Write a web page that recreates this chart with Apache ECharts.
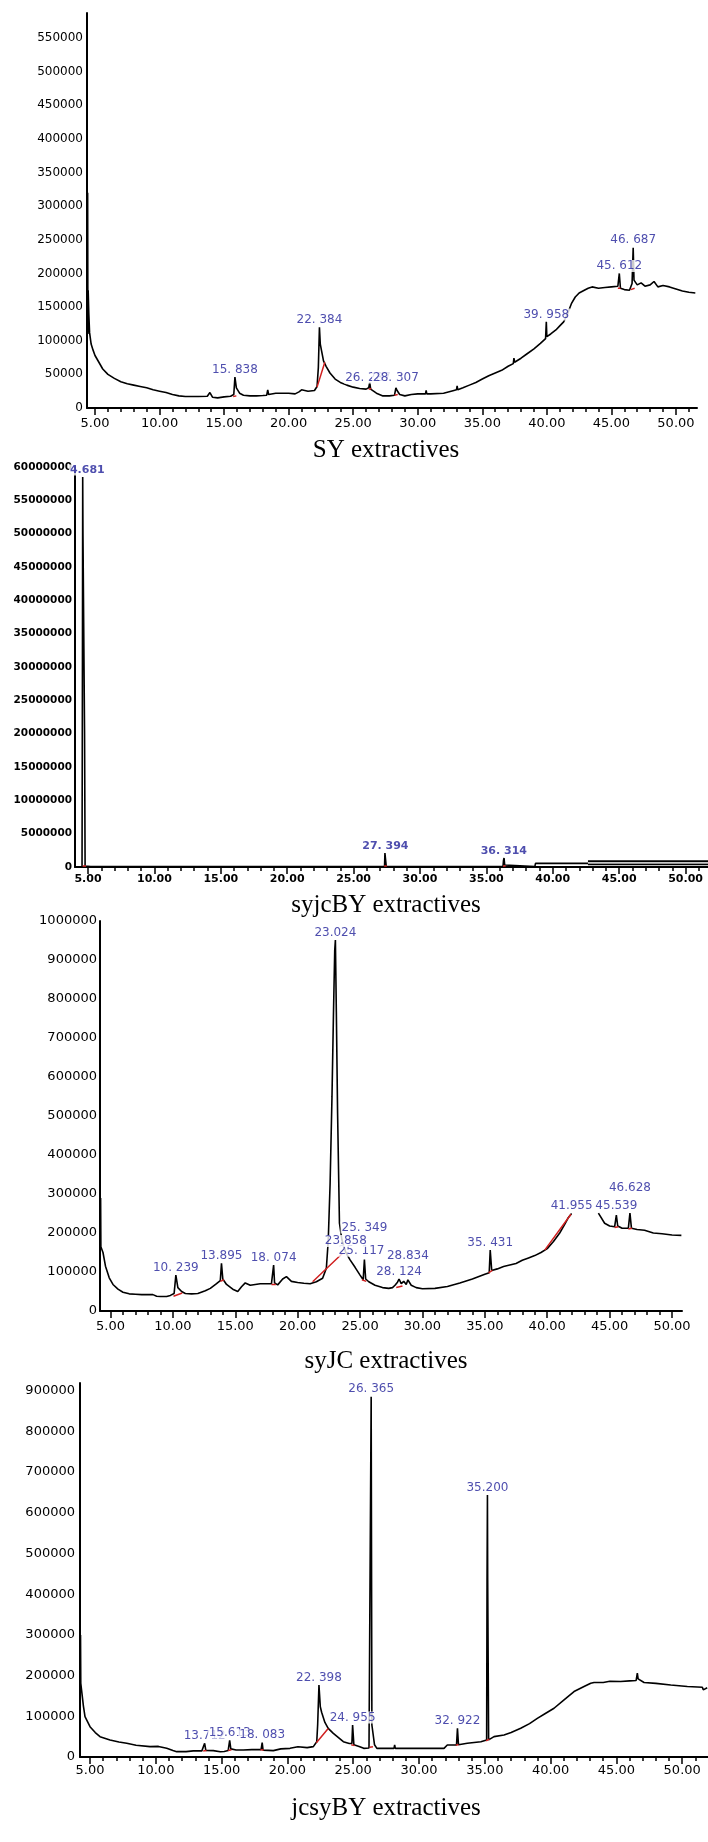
<!DOCTYPE html>
<html>
<head>
<meta charset="utf-8">
<script src="https://cdn.jsdelivr.net/npm/echarts@6/dist/echarts.min.js"></script>
<style>
  body { margin: 0; background: #fff; }
  #chart { width: 708px; height: 1842px; }
</style>
</head>
<body>
<div id="chart"></div>
<script>
// tick labels shared by all four chromatograms
var xMajor = [5, 10, 15, 20, 25, 30, 35, 40, 45, 50];
var xMinor = [5,6,7,8,9,10,11,12,13,14,15,16,17,18,19,20,21,22,23,24,25,26,27,28,29,30,31,32,33,34,35,36,37,38,39,40,41,42,43,44,45,46,47,48,49,50,51];

var syYTicks = [0, 50000, 100000, 150000, 200000, 250000, 300000, 350000, 400000, 450000, 500000, 550000];
var syjcYTicks = [0, 5000000, 10000000, 15000000, 20000000, 25000000, 30000000, 35000000, 40000000, 45000000, 50000000, 55000000, 60000000];
var syJCYTicks = [0, 100000, 200000, 300000, 400000, 500000, 600000, 700000, 800000, 900000, 1000000];
var jcsyYTicks = [0, 100000, 200000, 300000, 400000, 500000, 600000, 700000, 800000, 900000];

var captions = ['SY extractives', 'syjcBY extractives', 'syJC extractives', 'jcsyBY extractives'];

// SY extractives
var syTime = [4.39,4.41,4.43,4.45,4.47,4.52,4.58,4.70,4.85,5.0,5.3,5.6,6.0,6.5,7.0,7.5,8.0,8.5,9.0,9.5,10.0,10.5,11.0,11.5,12.0,13.0,13.7,13.9,14.1,14.5,15.0,15.5,15.75,15.838,15.95,16.2,16.5,17.0,17.5,18.0,18.3,18.38,18.45,19.0,19.5,20.0,20.5,20.8,21.0,21.5,22.0,22.2,22.3,22.384,22.45,22.55,22.7,22.9,23.2,23.6,24.0,24.5,25.0,25.5,26.0,26.2,26.28,26.35,26.8,27.3,27.8,28.2,28.307,28.4,28.6,29.0,29.5,30.0,30.6,30.65,30.7,31.0,32.0,32.8,33.0,33.05,33.1,33.5,34.0,34.5,35.0,35.5,36.0,36.5,37.0,37.4,37.45,37.5,38.0,38.5,39.0,39.5,39.9,39.958,40.0,40.3,40.7,41.0,41.3,41.6,41.9,42.2,42.5,42.9,43.2,43.5,44.0,44.5,45.0,45.5,45.612,45.7,46.0,46.4,46.6,46.687,46.75,47.0,47.3,47.6,48.0,48.3,48.6,49.0,49.5,50.0,50.5,51.0,51.5];
var syAbund = [340000,120000,320000,110000,175000,140000,112000,95000,86000,78000,68000,58000,50000,44000,39000,36000,34000,32000,30000,27000,25000,23000,20000,18000,17000,17000,17500,23000,16000,15000,16500,17500,20000,46000,30000,22000,19000,18000,18000,18500,19000,27000,20000,22000,22000,22000,21000,24000,27000,25000,26000,32000,60000,120000,95000,85000,70000,62000,52000,43000,38000,34000,31000,29000,28000,30000,38000,28000,22000,18000,18000,19000,30000,26000,20000,18000,20000,21000,21000,26000,21000,21000,22000,26000,27000,33000,27000,30000,34000,38000,43000,48000,52000,56000,62000,66000,74000,68000,74000,81000,88000,96000,103000,128000,106000,110000,116000,122000,128000,140000,155000,165000,171000,175000,178000,180000,178000,179000,180000,181000,200000,178000,176000,175000,185000,238000,190000,183000,186000,181000,183000,188000,180000,182000,180000,177000,174000,172000,171000];
var syRedTime = [15.7, 15.95, null, 22.2, 22.8, null, 26.2, 26.4, null, 28.2, 28.45, null, 45.5, 45.7, null, 46.5, 46.8];
var syRedAbund = [17000, 18000, null, 31000, 68000, null, 28000, 29000, null, 19000, 20000, null, 178000, 178000, null, 176000, 178000];
var syPeakTime = [15.838, 22.384, 26.15, 28.307, 39.958, 45.612, 46.687];
var syPeakAbund = [46000, 120000, 34000, 34000, 128000, 200000, 238000];
var syPeakText = ['15. 838', '22. 384', '26. 287', '28. 307', '39. 958', '45. 612', '46. 687'];

// syjcBY extractives
var syjcTime = [4.03,4.55,4.58,4.60,4.62,4.70,4.74,4.78,5.2,27.33,27.36,27.43,27.46,36.25,36.29,36.33,36.38,36.42,38.65,38.7,42.55,42.65,51.7];
var syjcAbund = [0,0,30000000,58500000,50000000,50000000,20000000,150000,50000,50000,2100000,2100000,50000,50000,1000000,1350000,300000,50000,50000,550000,550000,620000,620000];
var syjcNoiseTime = [42.65, 51.7];
var syjcNoiseAbund = [620000, 620000];
var syjcRedTime = [4.6, 4.85, null, 27.3, 27.5, null, 36.25, 36.45];
var syjcRedAbund = [150000, 150000, null, 150000, 150000, null, 150000, 150000];
var syjcPeakTime = [4.95, 27.394, 36.314];
var syjcPeakAbund = [58500000, 2100000, 1350000];
var syjcPeakText = ['4.681', '27. 394', '36. 314'];

// syJC extractives
var syJCTime = [4.17,4.19,4.21,4.23,4.27,4.4,4.6,4.9,5.2,5.6,6.0,6.5,7.0,7.5,8.0,8.4,8.55,8.7,9.0,9.5,9.8,10.1,10.239,10.4,10.7,11.0,11.5,12.0,12.6,13.0,13.5,13.8,13.895,14.0,14.3,14.8,15.2,15.5,15.8,16.2,16.6,17.0,17.5,17.9,18.0,18.074,18.15,18.4,18.8,19.1,19.5,20.0,20.5,21.0,21.5,22.0,22.3,22.45,22.6,22.75,22.87,22.97,23.024,23.1,23.2,23.35,23.55,23.858,24.2,24.6,25.0,25.25,25.3,25.349,25.45,25.7,26.2,26.8,27.3,27.6,27.8,28.0,28.124,28.3,28.5,28.7,28.834,29.1,29.5,30.0,31.0,32.0,33.0,34.0,35.0,35.35,35.431,35.55,36.0,36.5,37.0,37.5,38.0,38.5,39.0,39.5,40.0,40.5,41.0,41.4,41.7,41.955,null,44.1,44.6,45.0,45.4,45.539,45.65,46.0,46.5,46.628,46.75,47.2,47.8,48.5,49.2,50.0,50.75];
var syJCAbund = [300000,170000,290000,165000,165000,150000,115000,85000,68000,56000,48000,44000,43000,42000,42000,42000,47000,38000,37000,37000,40000,45000,92000,60000,50000,45000,44000,45000,52000,58000,70000,78000,122000,82000,68000,56000,50000,62000,72000,66000,68000,70000,70000,70000,72000,118000,72000,67000,82000,88000,76000,73000,71000,70000,75000,84000,110000,180000,327000,549000,763000,925000,951000,767000,507000,225000,182000,150000,131000,112000,92000,80000,78000,132000,82000,75000,66000,60000,58000,60000,66000,74000,82000,70000,76000,68000,80000,66000,60000,57000,58000,63000,72000,82000,94000,98000,156000,104000,108000,114000,118000,122000,130000,136000,142000,150000,160000,178000,200000,222000,240000,250000,null,251000,225000,218000,216000,246000,218000,212000,212000,251000,212000,209000,207000,200000,198000,195000,194000];
var syJCRedTime = [10.05,10.75,null,13.8,14.1,null,17.9,18.25,null,21.2,23.6,null,25.15,25.5,null,27.9,28.4,null,35.3,35.6,null,39.8,41.9,null,45.4,45.7,null,46.5,46.8];
var syJCRedAbund = [38000,46000,null,76000,80000,null,68000,68000,null,75000,148000,null,80000,76000,null,60000,64000,null,98000,104000,null,156000,248000,null,214000,216000,null,210000,212000];
var syJCPeakTime = [10.239, 13.895, 18.074, 23.024, 25.117, 23.858, 25.349, 28.124, 28.834, 35.431, 41.955, 45.539, 46.628];
var syJCPeakAbund = [92000, 122000, 118000, 951000, 135000, 160000, 195000, 82000, 121000, 156000, 250000, 250000, 297000];
var syJCPeakText = ['10. 239', '13.895', '18. 074', '23.024', '25. 117', '23.858', '25. 349', '28. 124', '28.834', '35. 431', '41.955', '45.539', '46.628'];

// jcsyBY extractives
var jcsyTime = [4.24,4.26,4.28,4.30,4.5,4.62,5.0,5.4,5.76,6.52,7.2,7.79,8.5,9.56,10.2,10.25,10.3,10.83,11.3,11.59,12.3,12.85,13.5,13.65,13.712,13.8,14.37,14.9,15.2,15.5,15.613,15.7,16.1,16.65,17.3,18.0,18.083,18.15,18.93,19.5,20.2,20.8,21.5,21.97,22.23,22.3,22.398,22.5,22.6,22.85,23.1,23.49,24.25,24.7,24.9,24.955,25.05,25.5,25.8,26.2,26.3,26.365,26.42,26.55,26.62,26.8,27.1,28.1,28.15,28.2,29.0,31.9,32.15,32.85,32.922,33.0,33.67,34.7,35.14,35.17,35.2,35.22,35.27,35.29,35.7,36.46,37.0,37.73,38.4,38.99,39.6,40.26,41.02,41.78,42.54,43.05,43.3,44.0,44.5,45.32,46.0,46.5,46.59,46.65,47.1,48.0,49.13,50.39,51.53,51.6,51.9];
var jcsyAbund = [316000,180000,300000,181000,125000,99000,74500,60000,50000,41800,37000,33600,29000,25400,26000,30000,22000,21300,16000,13100,13100,15000,15000,18000,33600,16000,15600,13000,13500,16000,40900,20000,17200,17200,18000,18000,35200,17000,15600,20000,21300,25000,23000,25400,37600,80000,177000,123600,110000,85000,70500,58200,37600,33000,33000,78600,30000,25400,21300,22000,26000,885000,78600,78600,30000,21300,21300,21300,30000,21300,21300,21300,29500,29500,70500,30000,33600,37600,42000,435000,643700,435000,435000,42000,50000,54100,60000,70500,82000,95000,107000,119800,140300,160800,173100,181300,183000,183000,186000,185500,187000,188000,206000,192000,183000,181000,177000,173100,171400,165000,170000];
var jcsyRedTime = [13.6,13.85,null,15.5,15.75,null,17.95,18.2,null,22.2,23.1,null,24.85,25.1,null,26.25,26.5,null,32.8,33.0,null,35.1,35.35];
var jcsyRedAbund = [15000,16000,null,16000,18000,null,18000,17000,null,35000,70000,null,30000,28000,null,24000,25000,null,29500,30000,null,40000,44000];
var jcsyPeakTime = [13.712, 15.613, 18.083, 22.398, 24.955, 26.365, 32.922, 35.2];
var jcsyPeakAbund = [33600, 40900, 35200, 177000, 78600, 885000, 70500, 643700];
var jcsyPeakText = ['13.712', '15.613', '18. 083', '22. 398', '24. 955', '26. 365', '32. 922', '35.200'];


function pairs(t, v) {
    var out = [];
    for (var i = 0; i < t.length; i++) {
        if (t[i] === null || v[i] === null) {
            out.push(['-', '-']);
        } else {
            out.push([t[i], v[i]]);
        }
    }
    return out;
}

function peakItems(t, v, txt) {
    var out = [];
    for (var i = 0; i < t.length; i++) {
        out.push({name: txt[i], value: [t[i], v[i]]});
    }
    return out;
}

// pixel layout of the four stacked plots
var panels = [
    {left: 87, top: 13, width: 610, height: 395, xMin: 4.38, xMax: 51.63, yMax: 587100, yTicks: syYTicks,
     xFont: 13, yFont: 12, bold: false, xMargin: 9, yMargin: 4, peakFont: 12, capY: 452,
     time: syTime, abund: syAbund, redT: syRedTime, redA: syRedAbund, pT: syPeakTime, pA: syPeakAbund, pTxt: syPeakText},
    {left: 75, top: 467, width: 633, height: 400, xMin: 4.02, xMax: 51.69, yMax: 60000000, yTicks: syjcYTicks,
     xFont: 11, yFont: 10.5, bold: true, xMargin: 7, yMargin: 3, peakFont: 11, capY: 907,
     time: syjcTime, abund: syjcAbund, redT: syjcRedTime, redA: syjcRedAbund, pT: syjcPeakTime, pA: syjcPeakAbund, pTxt: syjcPeakText},
    {left: 100, top: 921, width: 582, height: 390, xMin: 4.16, xMax: 50.8, yMax: 1000000, yTicks: syJCYTicks,
     xFont: 13, yFont: 13, bold: false, xMargin: 9, yMargin: 3, peakFont: 12, capY: 1363,
     time: syJCTime, abund: syJCAbund, redT: syJCRedTime, redA: syJCRedAbund, pT: syJCPeakTime, pA: syJCPeakAbund, pTxt: syJCPeakText},
    {left: 80, top: 1383, width: 628, height: 374, xMin: 4.24, xMax: 51.96, yMax: 918900, yTicks: jcsyYTicks,
     xFont: 13, yFont: 13, bold: false, xMargin: 7, yMargin: 5, peakFont: 12, capY: 1810,
     time: jcsyTime, abund: jcsyAbund, redT: jcsyRedTime, redA: jcsyRedAbund, pT: jcsyPeakTime, pA: jcsyPeakAbund, pTxt: jcsyPeakText}
];

var grids = [], xAxes = [], yAxes = [], series = [], titles = [];

for (var g = 0; g < panels.length; g++) {
    var p = panels[g];
    grids.push({left: p.left, top: p.top, width: p.width, height: p.height});

    xAxes.push({
        type: 'value', gridIndex: g, position: 'bottom', min: p.xMin, max: p.xMax,
        axisLine: {onZero: false, lineStyle: {color: '#000', width: 2}},
        axisTick: {customValues: xMajor, length: 7, lineStyle: {color: '#000', width: 1.5}},
        axisLabel: {
            customValues: xMajor, margin: p.xMargin, color: '#000',
            fontFamily: 'DejaVu Sans', fontSize: p.xFont, fontWeight: p.bold ? 'bold' : 'normal',
            formatter: function (v) { return v.toFixed(2); }
        },
        splitLine: {show: false}
    });
    // minor ticks, one per minute
    xAxes.push({
        type: 'value', gridIndex: g, position: 'bottom', min: p.xMin, max: p.xMax,
        axisLine: {show: false},
        axisTick: {customValues: xMinor, length: 4, lineStyle: {color: '#000', width: 1.5}},
        axisLabel: {show: false},
        splitLine: {show: false}
    });

    yAxes.push({
        type: 'value', gridIndex: g, min: 0, max: p.yMax,
        axisLine: {show: true, onZero: false, lineStyle: {color: '#000', width: 2}},
        axisTick: {show: false},
        axisLabel: {
            customValues: p.yTicks, margin: p.yMargin, color: '#000',
            fontFamily: 'DejaVu Sans', fontSize: p.yFont, fontWeight: p.bold ? 'bold' : 'normal',
            formatter: function (v) { return String(v); }
        },
        splitLine: {show: false}
    });

    series.push({
        type: 'line', xAxisIndex: 2 * g, yAxisIndex: g, symbol: 'none',
        data: pairs(p.time, p.abund),
        lineStyle: {color: '#000', width: 1.6}, z: 2
    });

    series.push({
        type: 'line', xAxisIndex: 2 * g, yAxisIndex: g, symbol: 'none',
        data: pairs(p.redT, p.redA),
        lineStyle: {color: '#d02020', width: 1.5}, z: 3
    });

    series.push({
        type: 'scatter', xAxisIndex: 2 * g, yAxisIndex: g, symbolSize: 1,
        itemStyle: {color: 'rgba(0,0,0,0)'},
        data: peakItems(p.pT, p.pA, p.pTxt),
        label: {
            show: true, position: 'top', distance: 1, formatter: '{b}',
            color: '#22229a', fontFamily: 'DejaVu Sans', fontSize: p.peakFont,
            fontWeight: p.bold ? 'bold' : 'normal',
            backgroundColor: '#fff', padding: [0, 1, 0, 1]
        },
        z: 5
    });

    titles.push({
        text: captions[g], left: 386, top: p.capY - 14, textAlign: 'center', padding: 0,
        textStyle: {fontFamily: 'Liberation Serif', fontSize: 25, fontWeight: 'normal', color: '#000'}
    });
}

// the noisy tail of syjcBY shows up as a hollow double line
series.push({
    type: 'line', xAxisIndex: 2, yAxisIndex: 1, symbol: 'none',
    data: pairs(syjcNoiseTime, syjcNoiseAbund),
    lineStyle: {color: '#000', width: 5}, z: 2
});
series.push({
    type: 'line', xAxisIndex: 2, yAxisIndex: 1, symbol: 'none',
    data: pairs(syjcNoiseTime, syjcNoiseAbund),
    lineStyle: {color: '#c8c8c8', width: 1.6}, z: 3
});

var myChart = echarts.init(document.getElementById('chart'));

var option = {
    backgroundColor: '#fff',
    animation: false,
    title: titles,
    grid: grids,
    xAxis: xAxes,
    yAxis: yAxes,
    series: series
};

myChart.setOption(option);
</script>
</body>
</html>
